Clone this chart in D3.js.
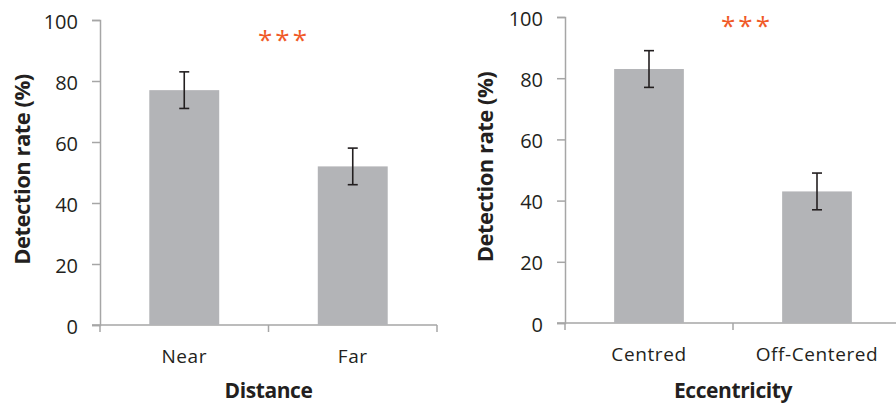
<!DOCTYPE html>
<html>
<head>
<meta charset="utf-8">
<script src="https://cdn.jsdelivr.net/npm/d3@7"></script>
<style>
  body { margin: 0; background: #fff; }
  svg text { font-family: "Open Sans", sans-serif; }
</style>
</head>
<body>
<div id="chart"></div>
<script>
// chart values
var distanceCategories = ["Near", "Far"];
var distanceValues = [77, 52];
var distanceErrors = [6, 6];

var eccCategories = ["Centred", "Off-Centered"];
var eccValues = [83, 43];
var eccErrors = [6, 6];

var yTickValues = [0, 20, 40, 60, 80, 100];
var significance = "***";

var width = 896, height = 404;
var barColor = "#b3b4b7";
var axisColor = "#a6a6a6";
var starColor = "#f05a28";

var svg = d3.select("#chart").append("svg")
  .attr("width", width)
  .attr("height", height);

// draw one panel
function drawPanel(opt) {
  var g = svg.append("g");

  var y = d3.scaleLinear().domain([0, 100]).range([opt.bottom, opt.top]);
  var x = d3.scaleBand()
    .domain(opt.categories)
    .range([opt.left, opt.left + opt.step * opt.categories.length])
    .paddingInner(0.585)
    .paddingOuter(0.2925);

  // y axis
  var yAxis = g.append("g")
    .attr("transform", "translate(" + opt.left + ",0)")
    .call(d3.axisLeft(y).tickValues(yTickValues).tickSize(8).tickPadding(14));
  yAxis.select(".domain").attr("stroke", axisColor).attr("stroke-width", 1.5);
  yAxis.selectAll(".tick line").attr("stroke", axisColor).attr("stroke-width", 1.5);
  yAxis.selectAll(".tick text")
    .attr("fill", "#231f20")
    .attr("dy", "0.4em")
    .style("font-size", "20px");

  // x axis line and category ticks
  g.append("line")
    .attr("x1", opt.left - 8).attr("x2", opt.axisEnd)
    .attr("y1", opt.bottom).attr("y2", opt.bottom)
    .attr("stroke", axisColor).attr("stroke-width", 1.5);

  var sepTicks = d3.range(opt.categories.length + 1).map(function (i) {
    return opt.left + opt.step * i;
  }).filter(function (v) { return v <= width; });
  g.selectAll(".sep").data(sepTicks).enter().append("line")
    .attr("x1", function (d) { return d; }).attr("x2", function (d) { return d; })
    .attr("y1", opt.bottom).attr("y2", opt.bottom + 7)
    .attr("stroke", axisColor).attr("stroke-width", 1.5);

  // bars
  var data = opt.categories.map(function (c, i) {
    return { cat: c, val: opt.values[i], err: opt.errors[i] };
  });

  g.selectAll(".bar").data(data).enter().append("rect")
    .attr("x", function (d) { return x(d.cat); })
    .attr("width", x.bandwidth())
    .attr("y", function (d) { return y(d.val); })
    .attr("height", function (d) { return y(0) - y(d.val); })
    .attr("fill", barColor);

  // error bars
  var eb = g.selectAll(".err").data(data).enter().append("g")
    .attr("stroke", "#231f20").attr("stroke-width", 1.6);
  eb.append("line")
    .attr("x1", function (d) { return x(d.cat) + x.bandwidth() / 2; })
    .attr("x2", function (d) { return x(d.cat) + x.bandwidth() / 2; })
    .attr("y1", function (d) { return y(d.val + d.err); })
    .attr("y2", function (d) { return y(d.val - d.err); });
  [1, -1].forEach(function (s) {
    eb.append("line")
      .attr("x1", function (d) { return x(d.cat) + x.bandwidth() / 2 - 5; })
      .attr("x2", function (d) { return x(d.cat) + x.bandwidth() / 2 + 5; })
      .attr("y1", function (d) { return y(d.val + s * d.err); })
      .attr("y2", function (d) { return y(d.val + s * d.err); });
  });

  // category labels
  g.selectAll(".cat").data(data).enter().append("text")
    .attr("x", function (d) { return x(d.cat) + x.bandwidth() / 2; })
    .attr("y", opt.bottom + 38)
    .attr("text-anchor", "middle")
    .attr("fill", "#231f20")
    .style("font-size", "19px")
    .style("letter-spacing", "0.6px")
    .text(function (d) { return d.cat; });

  // axis titles
  g.append("text")
    .attr("x", opt.left + opt.step)
    .attr("y", 398)
    .attr("text-anchor", "middle")
    .attr("fill", "#231f20")
    .style("font-size", "21px")
    .style("font-weight", "bold")
    .style("letter-spacing", "-0.4px")
    .text(opt.xTitle);

  g.append("text")
    .attr("transform", "translate(" + opt.yTitleX + "," + ((opt.top + opt.bottom) / 2 - 3) + ") rotate(-90)")
    .attr("text-anchor", "middle")
    .attr("dy", "0.35em")
    .attr("fill", "#231f20")
    .style("font-size", "22px")
    .style("font-weight", "bold")
    .style("letter-spacing", "-0.5px")
    .text("Detection rate (%)");

  // significance stars
  g.append("text")
    .attr("x", opt.starX)
    .attr("y", opt.starY)
    .attr("text-anchor", "middle")
    .attr("fill", starColor)
    .style("font-size", "26px")
    .style("letter-spacing", "3px")
    .text(significance);
}

drawPanel({
  categories: distanceCategories, values: distanceValues, errors: distanceErrors,
  left: 100, top: 20, bottom: 325, step: 168.5, axisEnd: 437,
  xTitle: "Distance", yTitleX: 22, starX: 284, starY: 49
});

drawPanel({
  categories: eccCategories, values: eccValues, errors: eccErrors,
  left: 565, top: 17, bottom: 323, step: 168, axisEnd: 896,
  xTitle: "Eccentricity", yTitleX: 485, starX: 747, starY: 35
});
</script>
</body>
</html>
